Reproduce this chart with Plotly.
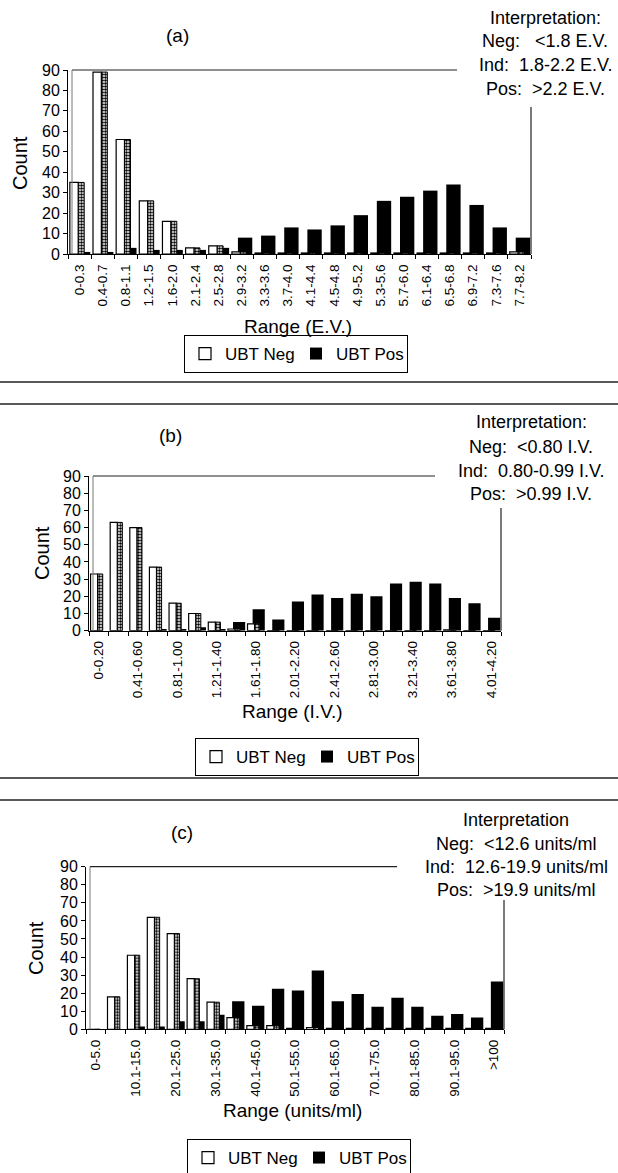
import plotly.graph_objects as go

# ---------------- data ----------------
cats_a = ["0-0.3", "0.4-0.7", "0.8-1.1", "1.2-1.5", "1.6-2.0", "2.1-2.4", "2.5-2.8",
          "2.9-3.2", "3.3-3.6", "3.7-4.0", "4.1-4.4", "4.5-4.8", "4.9-5.2", "5.3-5.6",
          "5.7-6.0", "6.1-6.4", "6.5-6.8", "6.9-7.2", "7.3-7.6", "7.7-8.2"]
neg_a = [35, 89, 56, 26, 16, 3, 4, 1, 0.5, 0.5, 0.5, 0.5, 0.5, 0.5, 0.5, 0.5, 0.5, 0.5, 0.5, 1]
pos_a = [1, 1, 3, 2, 2, 2, 3, 8, 9, 13, 12, 14, 19, 26, 28, 31, 34, 24, 13, 8]

cats_b = ["0-0.20", "0.21-0.40", "0.41-0.60", "0.61-0.80", "0.81-1.00", "1.01-1.20",
          "1.21-1.40", "1.41-1.60", "1.61-1.80", "1.81-2.00", "2.01-2.20", "2.21-2.40",
          "2.41-2.60", "2.61-2.80", "2.81-3.00", "3.01-3.20", "3.21-3.40", "3.41-3.60",
          "3.61-3.80", "3.81-4.00", "4.01-4.20"]
neg_b = [33, 63, 60, 37, 16, 10, 5, 1, 4, 0, 0, 0, 0, 0, 0, 0, 0, 0, 0.5, 0, 0]
pos_b = [0, 0, 0, 1, 1, 2, 0.5, 5, 12.5, 6.5, 17, 21, 19, 21.5, 20, 27.5, 28.5, 27.5, 19, 16, 7.5]

cats_c = ["0-5.0", "5.1-10.0", "10.1-15.0", "15.1-20.0", "20.1-25.0", "25.1-30.0",
          "30.1-35.0", "35.1-40.0", "40.1-45.0", "45.1-50.0", "50.1-55.0", "55.1-60.0",
          "60.1-65.0", "65.1-70.0", "70.1-75.0", "75.1-80.0", "80.1-85.0", "85.1-90.0",
          "90.1-95.0", "95.1-100", ">100"]
neg_c = [0, 18, 41, 62, 53, 28, 15, 6.5, 2, 2, 0.5, 1, 0.5, 0.5, 0.5, 0.5, 0.5, 0.5, 0.5, 0.5, 0.5]
pos_c = [0, 0, 1.5, 1.5, 4.5, 4.5, 8, 15.5, 13, 22.5, 21.5, 32.5, 15.5, 19.5, 12.5, 17.5,
         12.5, 7.5, 8.5, 6.5, 26.5]

y_ticks = [0, 10, 20, 30, 40, 50, 60, 70, 80, 90]

titles = ["(a)", "(b)", "(c)"]
x_titles = ["Range (E.V.)", "Range (I.V.)", "Range (units/ml)"]
interp = [
    ["Interpretation:", "Neg:&nbsp;&nbsp; <1.8 E.V.", "Ind:&nbsp; 1.8-2.2 E.V.", "Pos:&nbsp; >2.2 E.V."],
    ["Interpretation:", "Neg:&nbsp; <0.80 I.V.", "Ind:&nbsp; 0.80-0.99 I.V.", "Pos:&nbsp; >0.99 I.V."],
    ["Interpretation", "Neg:&nbsp; <12.6 units/ml", "Ind:&nbsp; 12.6-19.9 units/ml", "Pos:&nbsp; >19.9 units/ml"],
]
series_names = ["UBT Neg", "UBT Pos"]

# ---------------- layout geometry (pixels) ----------------
W, H = 618, 1173
FONT = "Liberation Sans, Arial, Helvetica, sans-serif"


def px(x):
    return x / W


def py(y):
    return 1 - y / H


geo = [
    dict(xl=68, xr=531, yb=254, yt=70, label_step=1, top_end=457, rline_top=107,
         title=(177, 36), count=(20, 163), xtitle=(298, 326),
         interp_x=545, interp_y=[18, 41, 65, 89], legend=(296, 354)),
    dict(xl=89, xr=501, yb=630.7, yt=476, label_step=2, top_end=435, rline_top=508,
         title=(170, 435), count=(42, 553), xtitle=(292, 711),
         interp_x=531, interp_y=[422, 447, 471, 494], legend=(307, 757)),
    dict(xl=86, xr=504, yb=1029.3, yt=866.7, label_step=2, top_end=397, rline_top=900,
         title=(182, 832), count=(36, 948), xtitle=(292, 1110),
         interp_x=516, interp_y=[820, 844, 867, 890], legend=(299, 1158)),
]

data = [(cats_a, neg_a, pos_a), (cats_b, neg_b, pos_b), (cats_c, neg_c, pos_c)]

fig = go.Figure()
layout = dict(
    template="none",
    width=W, height=H, margin=dict(l=0, r=0, t=0, b=0, autoexpand=False),
    paper_bgcolor="white", plot_bgcolor="white",
    barmode="overlay", showlegend=True,
    font=dict(family=FONT, color="black"),
)
annotations = []
shapes = []


def label(text, x, y, size, angle=0):
    return dict(text=text, x=px(x), y=py(y), xref="paper", yref="paper",
                showarrow=False, xanchor="center", yanchor="middle",
                textangle=angle, font=dict(size=size, family=FONT, color="black"))


for k, ((cats, neg, pos), g) in enumerate(zip(data, geo)):
    sfx = "" if k == 0 else str(k + 1)
    xa, ya = "x" + sfx, "y" + sfx
    lg = "legend" + sfx
    idx = list(range(len(cats)))

    fig.add_trace(go.Bar(x=idx, y=pos, name=series_names[1], xaxis=xa, yaxis=ya,
                         offset=-0.16, width=0.62, legend=lg, legendrank=2,
                         marker=dict(color="black", line=dict(color="black", width=0))))
    fig.add_trace(go.Bar(x=idx, y=neg, name=series_names[0] + " side", xaxis=xa, yaxis=ya,
                         offset=-0.06, width=0.26, showlegend=False, legend=lg,
                         marker=dict(color="white", line=dict(color="black", width=1),
                                     pattern=dict(shape=".", fgcolor="black", bgcolor="white",
                                                  size=3, solidity=0.55))))
    fig.add_trace(go.Bar(x=idx, y=neg, name=series_names[0], xaxis=xa, yaxis=ya,
                         offset=-0.42, width=0.36, legend=lg, legendrank=1,
                         marker=dict(color="white", line=dict(color="black", width=1.2))))

    shown = idx[::g["label_step"]]
    layout["xaxis" + sfx] = dict(
        domain=[px(g["xl"]), px(g["xr"])], anchor=ya, automargin=False,
        range=[-0.5, len(cats) - 0.5],
        tickmode="array", tickvals=shown, ticktext=[cats[i] for i in shown],
        tickangle=-90, tickfont=dict(size=13.5, family=FONT, color="black"),
        ticks="outside", ticklen=4, tickcolor="rgba(0,0,0,0)",
        minor=dict(tick0=-0.5, dtick=1, ticks="outside", ticklen=4, tickcolor="black", tickwidth=1),
        showline=True, linecolor="black", linewidth=1,
        showgrid=False, zeroline=False, fixedrange=True,
    )
    layout["yaxis" + sfx] = dict(
        domain=[py(g["yb"]), py(g["yt"])], anchor=xa, automargin=False,
        range=[0, 90], tickmode="array", tickvals=y_ticks,
        ticks="outside", ticklen=4, tickcolor="black",
        tickfont=dict(size=16, family=FONT, color="black"),
        showline=True, linecolor="black", linewidth=1,
        showgrid=False, zeroline=False, fixedrange=True,
    )
    layout[lg] = dict(
        x=px(g["legend"][0]), y=py(g["legend"][1]), xanchor="center", yanchor="middle",
        orientation="h", bordercolor="black", borderwidth=1, bgcolor="white",
        font=dict(size=17, family=FONT, color="black"), itemwidth=30,
        entrywidth=66, entrywidthmode="pixels", traceorder="normal",
    )

    annotations.append(label(titles[k], *g["title"], 19))
    annotations.append(label("Count", *g["count"], 20, angle=-90))
    annotations.append(label(x_titles[k], *g["xtitle"], 19))
    for t, yy in zip(interp[k], g["interp_y"]):
        annotations.append(label(t, g["interp_x"], yy, 18))

    # 3-D chart wall lines
    shapes.append(dict(type="line", xref="paper", yref="paper",
                       x0=px(g["xl"] + 4), x1=px(g["top_end"]), y0=py(g["yt"]), y1=py(g["yt"]),
                       line=dict(color="#222", width=1.2)))
    shapes.append(dict(type="line", xref="paper", yref="paper",
                       x0=px(g["xl"] + 4), x1=px(g["xl"] + 4), y0=py(g["yb"]), y1=py(g["yt"]),
                       line=dict(color="#777", width=1)))
    shapes.append(dict(type="line", xref="paper", yref="paper",
                       x0=px(g["xr"]), x1=px(g["xr"]), y0=py(g["yb"]), y1=py(g["rline_top"]),
                       line=dict(color="#222", width=1.2)))

for yy in [382, 404, 778, 800]:
    shapes.append(dict(type="line", xref="paper", yref="paper", x0=0, x1=1,
                       y0=py(yy), y1=py(yy), line=dict(color="#222", width=1.5)))

layout["annotations"] = annotations
layout["shapes"] = shapes
fig.update_layout(**layout)

fig.write_html("out.html", config={"displayModeBar": False},
               post_script="document.body.style.margin='0px';")
